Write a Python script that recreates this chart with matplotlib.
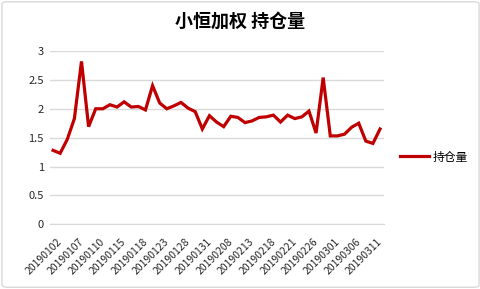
import matplotlib
matplotlib.use("Agg")
import matplotlib.pyplot as plt
import matplotlib.transforms as mtransforms
from matplotlib.patches import FancyBboxPatch

plt.rcParams['font.family'] = ['Noto Sans CJK SC', 'DejaVu Sans']

dates = ['20190102', '20190103', '20190104', '20190107', '20190108', '20190109',
         '20190110', '20190111', '20190114', '20190115', '20190116', '20190117',
         '20190118', '20190121', '20190122', '20190123', '20190124', '20190125',
         '20190128', '20190129', '20190130', '20190131', '20190201', '20190204',
         '20190208', '20190211', '20190212', '20190213', '20190214', '20190215',
         '20190218', '20190219', '20190220', '20190221', '20190222', '20190225',
         '20190226', '20190227', '20190228', '20190301', '20190304', '20190305',
         '20190306', '20190307', '20190308', '20190311', '20190312']
holdings = [1.28, 1.23, 1.47, 1.83, 2.82, 1.69, 2.00, 2.00, 2.07, 2.03,
            2.12, 2.03, 2.04, 1.98, 2.40, 2.10, 2.00, 2.05, 2.11, 2.01,
            1.95, 1.65, 1.88, 1.77, 1.69, 1.87, 1.85, 1.76, 1.79, 1.85,
            1.86, 1.89, 1.77, 1.89, 1.83, 1.86, 1.96, 1.58, 2.54, 1.53,
            1.53, 1.56, 1.68, 1.75, 1.44, 1.40, 1.65]

W, H = 481, 289
fig = plt.figure(figsize=(W / 100, H / 100), dpi=100)

# 外框
fig.patches.append(FancyBboxPatch((0.004, 0.006), 0.992, 0.988,
                                  boxstyle="round,pad=0,rounding_size=0.01",
                                  transform=fig.transFigure, fill=False,
                                  edgecolor='#d9d9d9', linewidth=1))

ax = fig.add_axes([49.5 / W, (H - 224.3) / H, (383.6 - 49.5) / W, (224.3 - 51) / H])

x = list(range(len(dates)))
line, = ax.plot(x, holdings, color='#c00000', linewidth=2.3, solid_joinstyle='miter',
                label='持仓量')

ax.set_xlim(-0.5, len(dates) - 0.5)
ax.set_ylim(0, 3)
ax.set_yticks([0, 0.5, 1, 1.5, 2, 2.5, 3])
ax.set_yticklabels(['0', '0.5', '1', '1.5', '2', '2.5', '3'])
ax.grid(axis='y', color='#d9d9d9', linewidth=1)
ax.set_axisbelow(True)
for s in ['top', 'right', 'left']:
    ax.spines[s].set_visible(False)
ax.spines['bottom'].set_color('#d9d9d9')
ax.tick_params(axis='both', length=0, labelsize=8, colors='#262626')
ax.tick_params(axis='y', pad=4)

ticks = x[::3]
ax.set_xticks(ticks)
ax.set_xticklabels([dates[i] for i in ticks], rotation=45, ha='right',
                   rotation_mode='anchor', fontsize=7.5, color='#262626')
ax.tick_params(axis='x', pad=9)
off = mtransforms.ScaledTranslation(4 / 100, 0, fig.dpi_scale_trans)
for lab in ax.get_xticklabels():
    lab.set_transform(lab.get_transform() + off)

fig.text(0.5, (H - 21.5) / H, '小恒加权 持仓量', ha='center', va='center',
         fontsize=13, fontweight='bold', color='#000000')

fig.legend(handles=[line], loc='center left', bbox_to_anchor=(400 / W, (H - 157) / H),
           frameon=False, fontsize=8.5, handlelength=2.45, handletextpad=0.35,
           borderaxespad=0, borderpad=0)

fig.savefig('out.png', dpi=100)
